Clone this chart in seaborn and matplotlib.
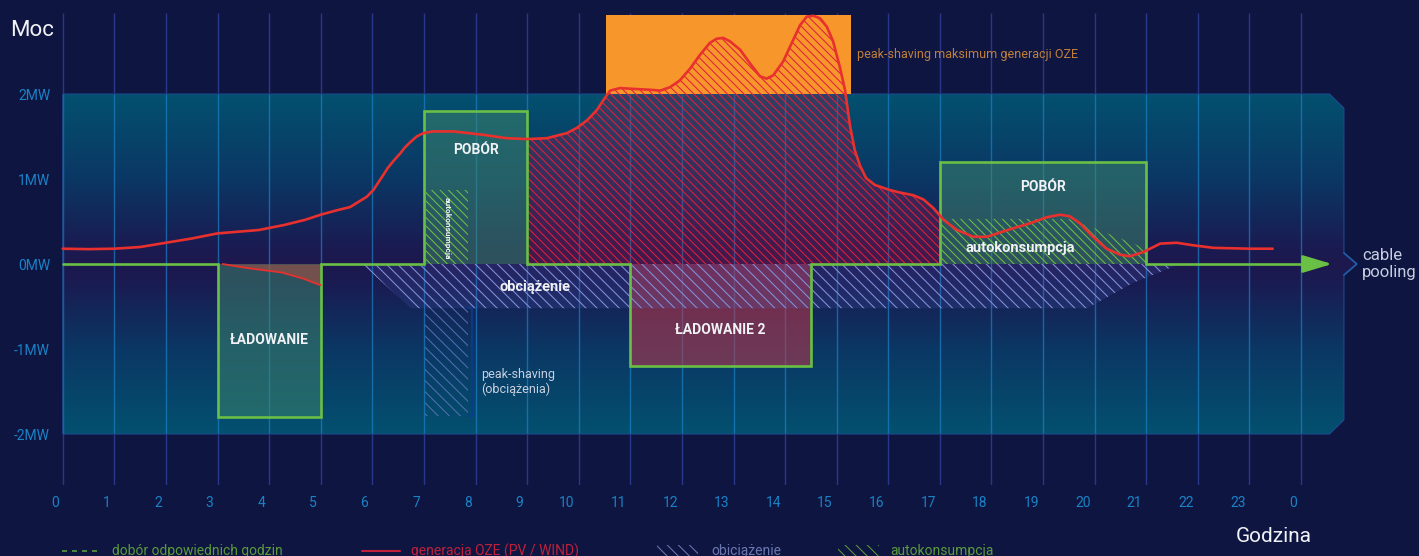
import numpy as np
import pandas as pd
import matplotlib.pyplot as plt
import seaborn as sns
from matplotlib.colors import LinearSegmentedColormap, to_rgba
from matplotlib.patches import Polygon, Rectangle
from matplotlib.lines import Line2D
from matplotlib.transforms import ScaledTranslation

# --- dane ---
hours = list(range(25))
hour_labels = [str(h % 24) for h in hours]
power_ticks = [2, 1, 0, -1, -2]
power_labels = ['2MW', '1MW', '0MW', '-1MW', '-2MW']

# generacja OZE (PV / WIND), MW
gen_hour = [0, 0.5, 1.0, 1.5, 2.0, 2.5, 3.0, 3.4, 3.8, 4.3, 4.7, 5.0, 5.3, 5.57, 5.89,
            6.02, 6.15, 6.3, 6.42, 6.54, 6.63, 6.73, 6.86, 6.99, 7.18, 7.57, 8.15, 8.6,
            9.0, 9.38, 9.77, 9.96, 10.16, 10.35, 10.48, 10.61, 10.8, 11.06, 11.38, 11.58,
            11.77, 11.96, 12.16, 12.35, 12.54, 12.67, 12.8, 12.93, 13.13, 13.32, 13.51,
            13.64, 13.77, 13.96, 14.16, 14.29, 14.42, 14.55, 14.68, 14.81, 14.93, 15.06,
            15.16, 15.26, 15.35, 15.45, 15.57, 15.74, 16.03, 16.23, 16.48, 16.68, 16.87,
            17.0, 17.07, 17.33, 17.65, 17.91, 18.16, 18.42, 18.75, 19.07, 19.33, 19.52,
            19.71, 19.97, 20.23, 20.49, 20.68, 20.94, 21.27, 21.59, 21.91, 22.3, 23.0, 23.45]
gen_mw = [0.18, 0.175, 0.18, 0.2, 0.25, 0.3, 0.36, 0.38, 0.40, 0.46, 0.52, 0.58, 0.63,
          0.67, 0.79, 0.87, 0.99, 1.13, 1.22, 1.30, 1.37, 1.43, 1.50, 1.54, 1.56, 1.56,
          1.52, 1.48, 1.47, 1.48, 1.54, 1.60, 1.69, 1.81, 1.93, 2.04, 2.07, 2.06, 2.05,
          2.04, 2.08, 2.16, 2.30, 2.46, 2.60, 2.65, 2.66, 2.62, 2.52, 2.36, 2.21, 2.18,
          2.22, 2.38, 2.64, 2.81, 2.91, 2.92, 2.89, 2.79, 2.62, 2.32, 2.05, 1.62, 1.34,
          1.16, 1.01, 0.93, 0.87, 0.84, 0.81, 0.76, 0.66, 0.57, 0.52, 0.40, 0.32, 0.32,
          0.37, 0.42, 0.48, 0.55, 0.58, 0.56, 0.48, 0.32, 0.18, 0.11, 0.09, 0.14, 0.24,
          0.25, 0.22, 0.19, 0.18, 0.18]

# krzywa ladowania w pierwszym oknie
charge_hour = [3.1, 3.6, 4.25, 4.65, 5.0]
charge_mw = [0.0, -0.05, -0.1, -0.17, -0.25]

# dobor odpowiednich godzin
block_start = [3, 7, 11, 17]
block_end = [5, 9, 14.5, 21]
block_mw = [-1.8, 1.8, -1.2, 1.2]
block_label = ['ŁADOWANIE', 'POBÓR', 'ŁADOWANIE 2', 'POBÓR']

# obciazenie
load_hour = [5.8, 6.75, 19.85, 20.75, 21.65]
load_mw = [0, -0.52, -0.52, -0.22, 0]

# autokonsumpcja
auto_hour = [17, 19.5, 20.0, 20.5, 21]
auto_mw = [0.53, 0.53, 0.42, 0.3, 0.18]
auto1_hour = [7.04, 7.85]
auto1_mw = 0.87

# peak-shaving obciazenia / generacji
ps_hour = [7.02, 7.85]
ps_mw = [-0.52, -1.79]
oze_hour = [10.53, 15.28]
oze_mw = [2.0, 2.93]

gen = pd.DataFrame({'hour': gen_hour, 'mw': gen_mw})
charge = pd.DataFrame({'hour': charge_hour, 'mw': charge_mw})

BG = '#0e1541'
GREEN = '#6abf45'
RED = '#e8302e'
ORANGE = '#f7962b'
BLUE_TXT = '#1a82c6'
W, H = 1419, 556

sns.set_theme(style='dark', rc={'figure.facecolor': BG, 'axes.facecolor': BG,
                                'savefig.facecolor': BG, 'hatch.linewidth': 0.75})
plt.rcParams['font.family'] = ['Roboto', 'DejaVu Sans']

fig = plt.figure(figsize=(W / 100, H / 100), dpi=100)
ax = fig.add_axes([56 / W, 71 / H, 1363 / W, 472 / H])

# pasmo przylacza (gradient)
band = Polygon(list(zip([0, 24.55, 24.83, 24.83, 25.08, 24.83, 24.83, 24.55, 0],
                        [2, 2, 1.835, 0.13, 0, -0.13, -1.835, -2, -2])),
               closed=True, facecolor='none', edgecolor='#1d4a8c', lw=0.8, zorder=0.7)
ax.add_patch(band)
band_cmap = LinearSegmentedColormap.from_list(
    'band', [(0, '#1e184e'), (0.12, '#191c52'), (0.5, '#0b3764'), (1, '#03506f')])
grad = np.abs(np.linspace(-2, 2, 400))[:, None]
im = ax.imshow(grad, cmap=band_cmap, vmin=0, vmax=2, extent=(0, 25.1, -2, 2),
               origin='lower', aspect='auto', zorder=0.5)
im.set_clip_path(band)

# siatka godzinowa
ax.vlines(hours, -2.6, 2.953, colors='#28378a', lw=1.0, zorder=0.4)
bright = ax.vlines(hours, -2, 2, colors='#1b80c8', lw=1.0, alpha=0.7, zorder=0.6)
bright.set_clip_path(band)

# okno peak-shaving OZE
ax.bar(oze_hour[0], oze_mw[1] - oze_mw[0], bottom=oze_mw[0], width=oze_hour[1] - oze_hour[0],
       align='edge', color=ORANGE, lw=0, zorder=1.5)

# bloki ladowanie / pobor
box_color = {'ŁADOWANIE': '#3f8a6c', 'POBÓR': '#3f8a6c', 'ŁADOWANIE 2': '#c0384a'}
box_alpha = {'ŁADOWANIE': 0.5, 'POBÓR': 0.5, 'ŁADOWANIE 2': 0.55}
for s, e, m, lab in zip(block_start, block_end, block_mw, block_label):
    ax.bar(s, m, width=e - s, align='edge', color=box_color[lab], alpha=box_alpha[lab],
           lw=0, zorder=2)

# generacja - obszar kreskowany
sel = gen[(gen.hour >= 9) & (gen.hour <= 17)]
ax.fill_between(sel.hour, 0, np.minimum(sel.mw, 2), color='#a01848', alpha=0.3, lw=0, zorder=2.2)
ax.fill_between(sel.hour, 0, sel.mw, facecolor='none', edgecolor='#e0203c',
                hatch='\\\\\\\\', lw=0, zorder=3)

# ladowanie z OZE
ax.fill_between(charge.hour, charge.mw, 0, color='#c8503a', alpha=0.45, lw=0, zorder=2.5)

# obciazenie
ax.fill(load_hour, load_mw, facecolor=to_rgba('#5060c0', 0.18), edgecolor='#8392da',
        hatch='\\\\\\', lw=0, zorder=3)
ax.bar(ps_hour[0], ps_mw[1] - ps_mw[0], bottom=ps_mw[0], width=ps_hour[1] - ps_hour[0],
       align='edge', facecolor='none', edgecolor='#4f6fb0', hatch='\\\\\\', lw=0, zorder=3)
ax.plot([ps_hour[1] + 0.01, ps_hour[1] + 0.09, ps_hour[1] + 0.09, ps_hour[1] + 0.01],
        [ps_mw[0], ps_mw[0], ps_mw[1], ps_mw[1]], color='#0c3c90', lw=1.2, zorder=3)

# autokonsumpcja
ax.fill_between(auto_hour, 0, auto_mw, facecolor='none', edgecolor=GREEN,
                hatch='\\\\\\\\', lw=0, zorder=3)
ax.bar(auto1_hour[0], auto1_mw, width=auto1_hour[1] - auto1_hour[0], align='edge',
       facecolor='none', edgecolor=GREEN, hatch='\\\\\\\\', lw=0, zorder=3)

# linia doboru godzin
sx, sy = [0], [0]
for s, e, m in zip(block_start, block_end, block_mw):
    sx += [s, s, e, e]
    sy += [0, m, m, 0]
sx.append(24.15)
sy.append(0)
ax.plot(sx, sy, color=GREEN, lw=1.9, zorder=4, solid_joinstyle='miter')
ax.annotate('', xy=(24.6, 0), xytext=(24.1, 0), zorder=4,
            arrowprops=dict(arrowstyle='-|>,head_length=1.5,head_width=0.45', color=GREEN,
                            lw=1.9, shrinkA=0, shrinkB=0))
ax.plot([24.83, 25.08, 24.83], [0.13, 0, -0.13], color='#1f5fa8', lw=1.2, zorder=1)

# krzywe generacji
sns.lineplot(data=gen, x='hour', y='mw', color=RED, lw=1.9, ax=ax, zorder=5,
             estimator=None, sort=False, solid_joinstyle='round', solid_capstyle='round')
sns.lineplot(data=charge, x='hour', y='mw', color=RED, lw=1.3, ax=ax, zorder=5,
             estimator=None, sort=False)

# opisy
white = '#f0f2f5'
ax.text(4.0, -0.89, 'ŁADOWANIE', color=white, fontsize=10, fontweight='bold', ha='center', va='center', zorder=6)
ax.text(8.0, 1.34, 'POBÓR', color=white, fontsize=10, fontweight='bold', ha='center', va='center', zorder=6)
ax.text(12.74, -0.78, 'ŁADOWANIE 2', color=white, fontsize=10, fontweight='bold', ha='center', va='center', zorder=6)
ax.text(19.0, 0.91, 'POBÓR', color=white, fontsize=10, fontweight='bold', ha='center', va='center', zorder=6)
ax.text(9.15, -0.27, 'obciążenie', color=white, fontsize=10.5, fontweight='bold', ha='center', va='center', zorder=6)
ax.text(18.55, 0.19, 'autokonsumpcja', color=white, fontsize=10.5, fontweight='bold', ha='center', va='center', zorder=6)
ax.text(7.45, 0.42, 'autokonsumpcja', color=white, fontsize=6, fontweight='bold', rotation=270,
        ha='center', va='center', zorder=6)
ax.text(8.1, -1.39, 'peak-shaving\n(obciążenia)', color='#c8d0e0', fontsize=9, ha='left', va='center',
        linespacing=1.1, zorder=6)
ax.text(15.39, 2.47, 'peak-shaving maksimum generacji OZE', color='#c0803a', fontsize=9,
        ha='left', va='center', zorder=6)
ax.text(25.18, 0.0, 'cable\npooling', color='#c8cde0', fontsize=12, ha='left', va='center',
        linespacing=1.1, zorder=6, clip_on=False)

# osie
ax.set_xticks(hours, hour_labels)
ax.set_yticks(power_ticks, power_labels)
ax.tick_params(axis='x', length=0, pad=8, labelsize=10, labelcolor=BLUE_TXT)
ax.tick_params(axis='y', length=0, pad=4.3, labelsize=10, labelcolor=BLUE_TXT)
shift = ScaledTranslation(-4 / 100, 0, fig.dpi_scale_trans)
for lab in ax.get_xticklabels():
    lab.set_horizontalalignment('right')
    lab.set_transform(lab.get_transform() + shift)
ax.set_xlim(-0.13, 26.285)
ax.set_ylim(-2.6, 2.953)
ax.set_xlabel('')
ax.set_ylabel('')
ax.grid(False)
for sp in ax.spines.values():
    sp.set_visible(False)

fig.text(10 / W, 1 - 30 / H, 'Moc', color=white, fontsize=16, ha='left', va='center')
fig.text(1236 / W, 1 - 537 / H, 'Godzina', color=white, fontsize=15, ha='left', va='center')

# legenda
ly = 1 - 551 / H
fig.add_artist(Line2D([62 / W, 100 / W], [ly, ly], color='#5a9a3a', lw=1.2, ls=(0, (3, 3))))
fig.text(112 / W, ly, 'dobór odpowiednich godzin', color='#5a9a3a', fontsize=10, va='center')
fig.add_artist(Line2D([362 / W, 400 / W], [ly, ly], color='#c0203a', lw=1.5))
fig.text(411 / W, ly, 'generacja OZE (PV / WIND)', color='#c0203a', fontsize=10, va='center')
fig.add_artist(Rectangle((657 / W, ly - 6 / H), 41 / W, 12 / H, transform=fig.transFigure,
                         facecolor='none', edgecolor='#6a78b0', hatch='\\\\\\', lw=0))
fig.text(711 / W, ly, 'obiciążenie', color='#6a78b0', fontsize=10, va='center')
fig.add_artist(Rectangle((838 / W, ly - 6 / H), 41 / W, 12 / H, transform=fig.transFigure,
                         facecolor='none', edgecolor='#5a9a3a', hatch='\\\\\\', lw=0))
fig.text(890 / W, ly, 'autokonsumpcja', color='#5a9a3a', fontsize=10, va='center')

fig.savefig('out.png', dpi=100)
